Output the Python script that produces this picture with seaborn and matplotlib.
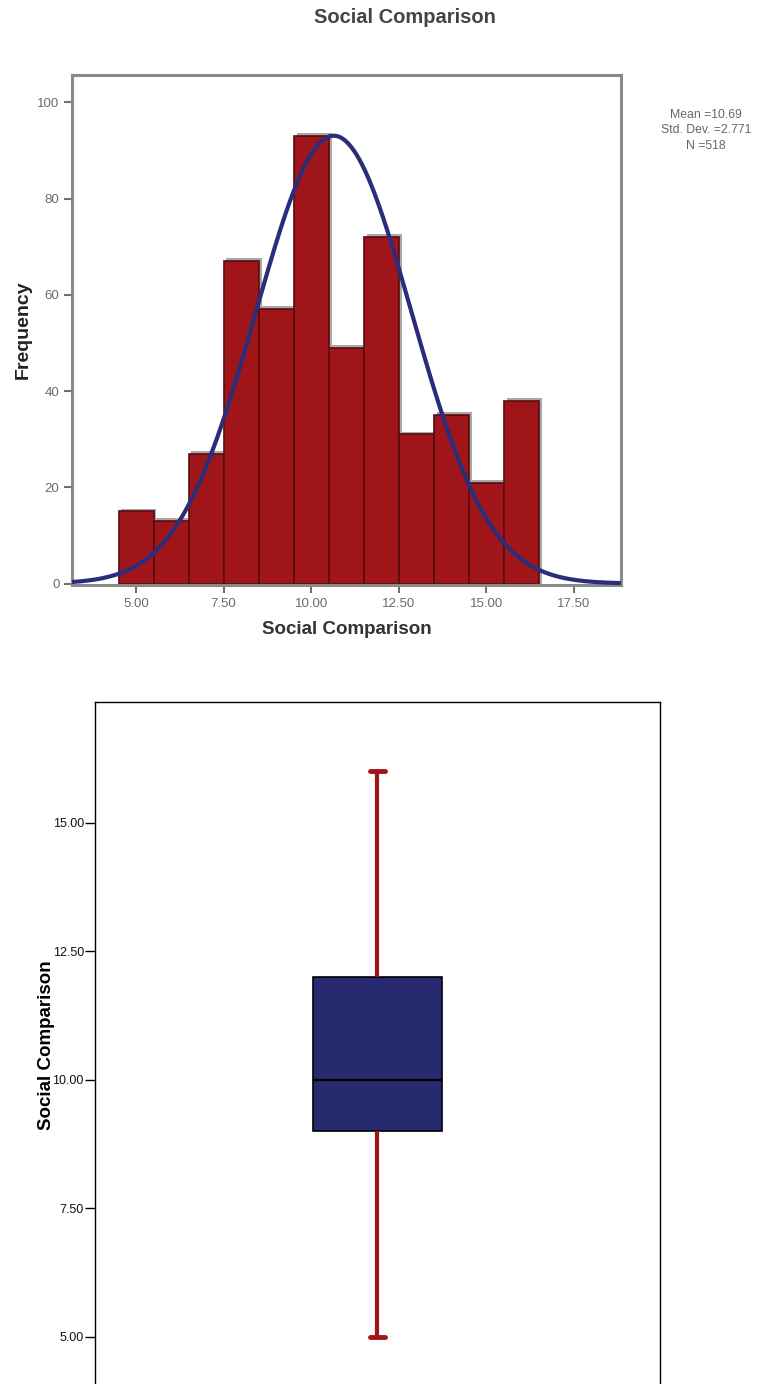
import numpy as np
import pandas as pd
import matplotlib
matplotlib.use("Agg")
import matplotlib.pyplot as plt
import seaborn as sns

# ---- data ----
bin_centers = [5, 6, 7, 8, 9, 10, 11, 12, 13, 14, 15, 16]
frequencies = [15, 13, 27, 67, 57, 93, 49, 72, 31, 35, 21, 38]
x_ticks = [5.0, 7.5, 10.0, 12.5, 15.0, 17.5]
x_tick_labels = ["5.00", "7.50", "10.00", "12.50", "15.00", "17.50"]
y_ticks_hist = [0, 20, 40, 60, 80, 100]
stat_mean = "10.69"
stat_sd = "2.771"
stat_n = "518"
# normal curve as displayed on the chart (centre, spread, total count)
curve_mean = 10.64
curve_sd = 2.22
curve_n = 518
box_summary = [5, 9, 10, 12, 16]   # min, Q1, median, Q3, max
box_ticks = [5.0, 7.5, 10.0, 12.5, 15.0]
box_tick_labels = ["5.00", "7.50", "10.00", "12.50", "15.00"]

sns.set_theme(style="white")
plt.rcParams["font.family"] = ["Liberation Sans", "DejaVu Sans"]

fig = plt.figure(figsize=(7.73, 13.84), dpi=100)

# ---- histogram ----
ax1 = fig.add_axes([0.0931, 0.5773, 0.7102, 0.3685])
df = pd.DataFrame({"x": bin_centers, "w": frequencies})
# gray shadow behind bars
ax1.bar([c + 0.08 for c in bin_centers], [f + 0.6 for f in frequencies], width=1.0,
        color="#a8a8a8", edgecolor="none", zorder=1)
sns.histplot(data=df, x="x", weights="w", binwidth=1, binrange=(4.5, 16.5),
             color="#a0151a", edgecolor="#5a0b0e", linewidth=1.2, alpha=1.0,
             ax=ax1, zorder=2)
xs = np.linspace(3.17, 18.84, 400)
ys = curve_n * np.exp(-0.5 * ((xs - curve_mean) / curve_sd) ** 2) / (curve_sd * np.sqrt(2 * np.pi))
sns.lineplot(x=xs, y=ys, color="#2b2d7a", linewidth=3.0, ax=ax1, zorder=3)
ax1.set_xlim(3.17, 18.84)
ax1.set_ylim(-0.3, 105.7)
ax1.set_xticks(x_ticks)
ax1.set_xticklabels(x_tick_labels)
ax1.set_yticks(y_ticks_hist)
ax1.set_yticklabels([str(v) for v in y_ticks_hist])
ax1.tick_params(axis="both", which="both", length=6, width=1.5, color="#707070",
                labelcolor="#6a6a6a", labelsize=9.5, left=True, bottom=True, pad=3)
for s in ax1.spines.values():
    s.set_color("#8a8a8a")
    s.set_linewidth(2.2)
ax1.set_xlabel("Social Comparison", fontsize=13.5, fontweight="bold", color="#333333", labelpad=8)
ax1.set_ylabel("Frequency", fontsize=14, fontweight="bold", color="#222222")
ax1.yaxis.set_label_coords(-0.073, 0.5)
fig.text(0.524, 0.987, "Social Comparison", ha="center", va="center",
         fontsize=14.5, fontweight="bold", color="#444444")
fig.text(0.913, 0.9168, f"Mean ={stat_mean}", ha="center", va="center", fontsize=8.8, color="#666666")
fig.text(0.913, 0.9058, f"Std. Dev. ={stat_sd}", ha="center", va="center", fontsize=8.8, color="#666666")
fig.text(0.913, 0.8948, f"N ={stat_n}", ha="center", va="center", fontsize=8.8, color="#666666")

# ---- box plot ----
ax2 = fig.add_axes([0.1229, 0.0, 0.7309, 0.4928])
sns.boxplot(y=box_summary, ax=ax2, width=0.227, whis=1.5,
            boxprops=dict(facecolor="#272a6f", edgecolor="black", linewidth=1.2),
            medianprops=dict(color="black", linewidth=1.6),
            whiskerprops=dict(color="#a0151a", linewidth=3),
            capprops=dict(color="#a0151a", linewidth=3.5),
            showfliers=False)
# narrow caps
for line in ax2.lines:
    xd = np.asarray(line.get_xdata(), dtype=float)
    yd = np.asarray(line.get_ydata(), dtype=float)
    if len(xd) == 2 and yd[0] == yd[1] and yd[0] in (min(box_summary), max(box_summary)):
        c = xd.mean()
        line.set_xdata([c - 0.013, c + 0.013])
        line.set_solid_capstyle("round")
ax2.set_xlim(-0.5, 0.5)
ax2.set_ylim(4.085, 17.35)
ax2.set_yticks(box_ticks)
ax2.set_yticklabels(box_tick_labels)
ax2.set_xticks([])
ax2.tick_params(axis="y", length=7, width=1, color="black", labelsize=9, labelcolor="#111111", left=True, pad=1)
for k, s in ax2.spines.items():
    s.set_color("black")
    s.set_linewidth(1.0)
ax2.spines["bottom"].set_visible(False)
ax2.set_ylabel("Social Comparison", fontsize=13.5, fontweight="bold", color="black")
ax2.yaxis.set_label_coords(-0.071, 0.497)

fig.savefig("out.png", dpi=100)
